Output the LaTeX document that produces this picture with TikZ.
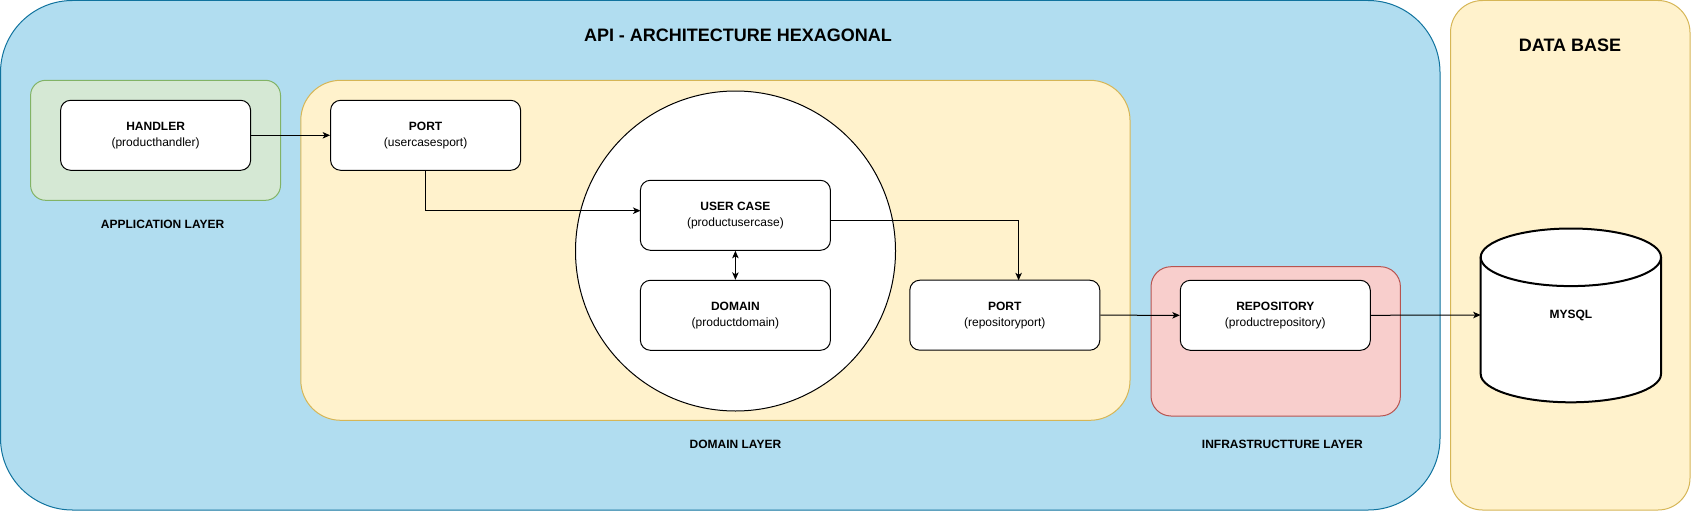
\documentclass[tikz,border=0pt]{standalone}
\usepackage{fontspec}
\setmainfont{Liberation Sans}
\usetikzlibrary{arrows.meta}
\definecolor{bluefill}{HTML}{B1DDF0}
\definecolor{bluestroke}{HTML}{10739E}
\definecolor{yelfill}{HTML}{FFF2CC}
\definecolor{yelstroke}{HTML}{D6B656}
\definecolor{grnfill}{HTML}{D5E8D4}
\definecolor{grnstroke}{HTML}{82B366}
\definecolor{redfill}{HTML}{F8CECC}
\definecolor{redstroke}{HTML}{B85450}
\tikzset{
  compbox/.style={draw=black, fill=white, line width=1pt, rounded corners=10pt,
    minimum width=190pt, minimum height=70pt, inner sep=0pt, align=center,
    font=\fontsize{12}{16}\selectfont},
  layerlabel/.style={font=\fontsize{12}{14}\selectfont\bfseries, inner sep=0pt},
  bigtitle/.style={font=\fontsize{18}{20}\selectfont\bfseries, inner sep=0pt},
  conn/.style={draw=black, line width=1pt, -{Stealth[length=7.5pt,width=6.5pt,inset=2pt]}},
  dconn/.style={draw=black, line width=1pt, {Stealth[length=7.5pt,width=6.5pt,inset=2pt]}-{Stealth[length=7.5pt,width=6.5pt,inset=2pt]}}
}
\begin{document}
\begin{tikzpicture}[x=1pt,y=-1pt]
\useasboundingbox (0,0) rectangle (1691,511);
% containers
\draw[fill=bluefill, draw=bluestroke, line width=1pt, rounded corners=72pt] (0.5,0.5) rectangle (1440,510);
\draw[fill=yelfill, draw=yelstroke, line width=1pt, rounded corners=32pt] (1450.5,0.5) rectangle (1690,510);
\draw[fill=grnfill, draw=grnstroke, line width=1pt, rounded corners=15pt] (30.6,80.3) rectangle (280.5,200.3);
\draw[fill=yelfill, draw=yelstroke, line width=1pt, rounded corners=40pt] (300.8,80.3) rectangle (1130,420.3);
\draw[fill=redfill, draw=redstroke, line width=1pt, rounded corners=20pt] (1151,266.7) rectangle (1400.4,416);
\draw[fill=white, draw=black, line width=1pt] (735.5,251) circle (160);
% titles and labels
\node[bigtitle] (apititle) at (738,35) {API - ARCHITECTURE HEXAGONAL};
\node[bigtitle] (dbtitle) at (1570,45) {DATA BASE};
\node[layerlabel] (applabel) at (162.6,224.3) {APPLICATION LAYER};
\node[layerlabel] (domlabel) at (735.4,444.3) {DOMAIN LAYER};
\node[layerlabel] (infralabel) at (1282.4,444.3) {INFRASTRUCTTURE LAYER};
% component boxes
\node[compbox] (handler) at (155.6,135.3) {\textbf{HANDLER}\\(producthandler)};
\node[compbox] (port1) at (425.6,135.3) {\textbf{PORT}\\(usercasesport)};
\node[compbox] (usercase) at (735.4,215.3) {\textbf{USER CASE}\\(productusercase)};
\node[compbox] (domain) at (735.4,315.3) {\textbf{DOMAIN}\\(productdomain)};
\node[compbox] (port2) at (1004.8,315.2) {\textbf{PORT}\\(repositoryport)};
\node[compbox] (repo) at (1275.3,315.3) {\textbf{REPOSITORY}\\(productrepository)};
% cylinder
\draw[fill=white, draw=black, line width=2pt]
  (1480.7,257.3) -- (1480.7,374)
  arc[start angle=180, end angle=360, x radius=90.15, y radius=-28.3]
  -- (1661,257.3)
  arc[start angle=0, end angle=180, x radius=90.15, y radius=-28.8] -- cycle;
\draw[draw=black, line width=2pt]
  (1480.7,257.3) arc[start angle=180, end angle=360, x radius=90.15, y radius=-28.8];
\node[minimum width=180pt, minimum height=100pt, inner sep=0pt,
  font=\fontsize{12}{14}\selectfont\bfseries] (mysql) at (1570.85,315) {MYSQL};
% connectors
\coordinate (ucin) at (640.5,210.7);
\coordinate (ucout) at (830.3,220.3);
\coordinate (p2in) at (1018.6,280.3);
\draw[conn] (handler.east) -- (port1.west);
\draw[conn] (port1.south) |- (ucin);
\draw[conn] (ucout) -| (p2in);
\draw[dconn] (usercase.south) -- (domain.north);
\draw[conn] (port2.east) -- (repo.west);
\draw[conn] (repo.east) -- (mysql.west);
\end{tikzpicture}
\end{document}
